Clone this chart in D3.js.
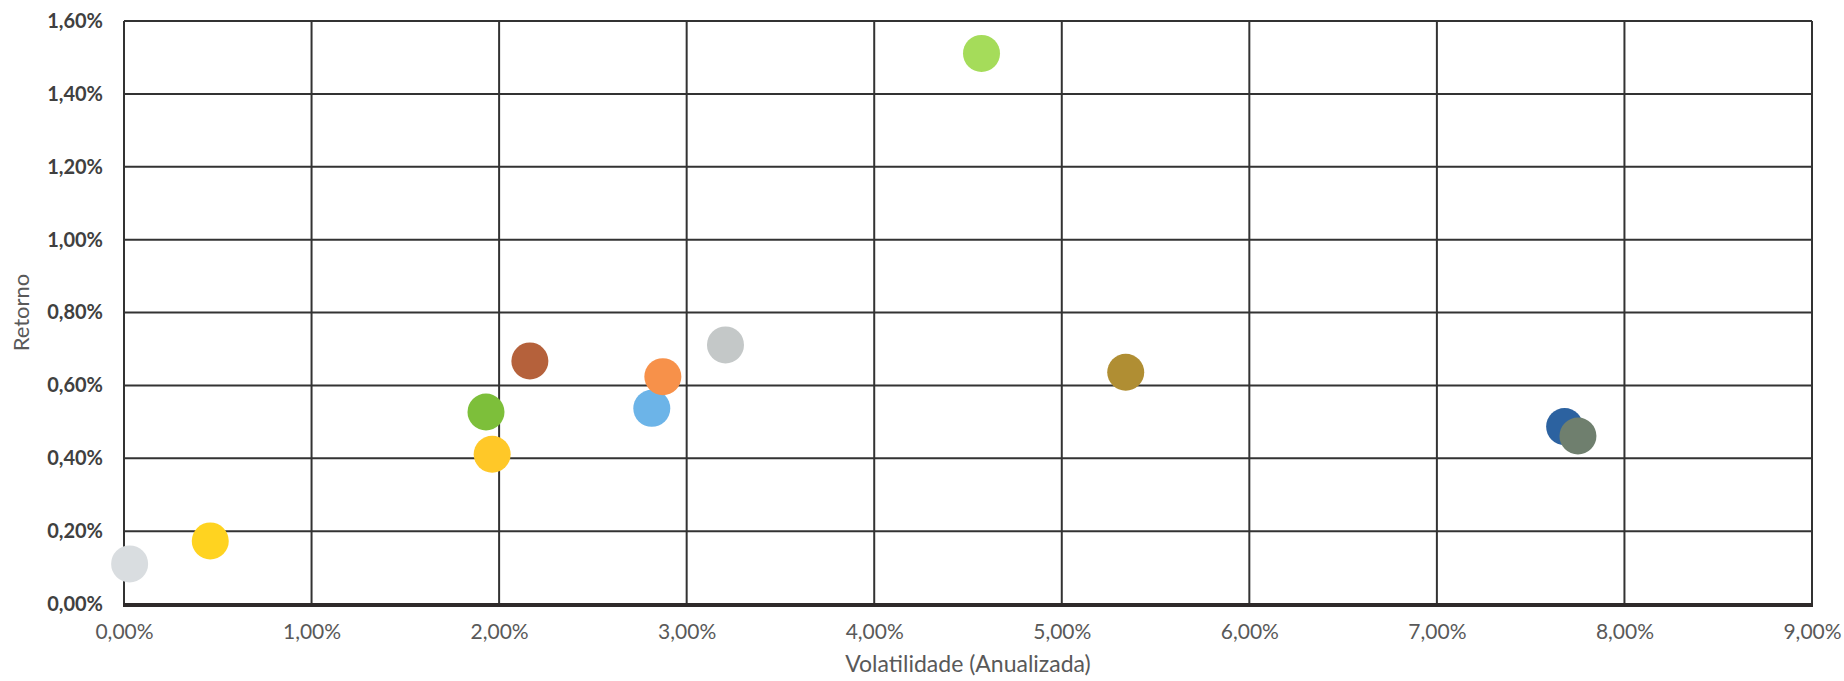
<!DOCTYPE html>
<html><head><meta charset="utf-8">
<script src="https://cdn.jsdelivr.net/npm/d3@7"></script>
<style>body{margin:0;background:#fff;} svg{display:block;}</style>
</head><body>
<svg id="c" width="1844" height="681"></svg>
<script>
const names = ["A","B","C","D","E","F","G","H","I","J","K","L"];
const volatility = [0.03, 0.46, 1.93, 1.963, 2.164, 2.814, 2.873, 3.207, 4.572, 5.341, 7.681, 7.752];
const returns   = [0.11, 0.173, 0.527, 0.411, 0.667, 0.537, 0.624, 0.711, 1.511, 0.636, 0.487, 0.461];
const colors = ["#d9dde0","#ffd320","#7dbf3a","#ffc828","#b5613b","#6cb4e8","#f7914a","#c4c8c8","#a5dc5a","#b08e33","#2c62a0","#6f7f6e"];
const xTicks = [0,1,2,3,4,5,6,7,8,9];
const yTicks = [0,0.2,0.4,0.6,0.8,1.0,1.2,1.4,1.6];

const svg = d3.select("#c");
const m = {l:124, r:1844-1812, t:21, b:681-604};
const W = 1844, H = 681;
const x = d3.scaleLinear().domain([0,9]).range([m.l, W-m.r]);
const y = d3.scaleLinear().domain([0,1.6]).range([H-m.b, m.t]);
const fmt = v => v.toFixed(2).replace(".", ",") + "%";
const FF = "Lato, 'Open Sans', sans-serif";

// grid
const g = svg.append("g");
g.selectAll("line.h").data(yTicks).join("line")
  .attr("x1", x(0)).attr("x2", x(9)).attr("y1", d=>y(d)).attr("y2", d=>y(d))
  .attr("stroke", "#333").attr("stroke-width", 2);
g.selectAll("line.v").data(xTicks).join("line")
  .attr("y1", y(0)).attr("y2", y(1.6)).attr("x1", d=>x(d)).attr("x2", d=>x(d))
  .attr("stroke", "#333").attr("stroke-width", 2);
// bottom axis line
g.append("line").attr("x1", x(0)-1).attr("x2", x(9)+1).attr("y1", y(0)+1).attr("y2", y(0)+1)
  .attr("stroke", "#2e2a2a").attr("stroke-width", 4);

// y axis labels
const yAxis = d3.axisLeft(y).tickValues(yTicks).tickFormat(fmt).tickSize(0).tickPadding(21);
const ya = svg.append("g").attr("transform", `translate(${m.l},0)`).call(yAxis);
ya.select(".domain").remove();
ya.selectAll("text").attr("font-family", FF).attr("font-weight","bold")
  .attr("font-size", 20).attr("fill", "#404040");

// x axis labels
const xAxis = d3.axisBottom(x).tickValues(xTicks).tickFormat(fmt).tickSize(0).tickPadding(20);
const xa = svg.append("g").attr("transform", `translate(0,${y(0)})`).call(xAxis);
xa.select(".domain").remove();
xa.selectAll("text").attr("font-family", FF)
  .attr("font-size", 21).attr("fill", "#595959");

// axis titles
svg.append("text").attr("x", (x(0)+x(9))/2).attr("y", 672).attr("text-anchor","middle")
  .attr("font-family", FF).attr("font-size", 23).attr("fill","#595959")
  .text("Volatilidade (Anualizada)");
svg.append("text").attr("transform", `translate(29,${(y(0)+y(1.6))/2}) rotate(-90)`).attr("text-anchor","middle")
  .attr("font-family", FF).attr("font-size", 22).attr("fill","#595959")
  .text("Retorno");

// points
svg.append("g").selectAll("circle").data(names.map((n,i)=>({n, v:volatility[i], r:returns[i], c:colors[i]})))
  .join("circle")
  .attr("cx", d=>x(d.v)).attr("cy", d=>y(d.r)).attr("r", 18.5).attr("fill", d=>d.c);
</script>
</body></html>
